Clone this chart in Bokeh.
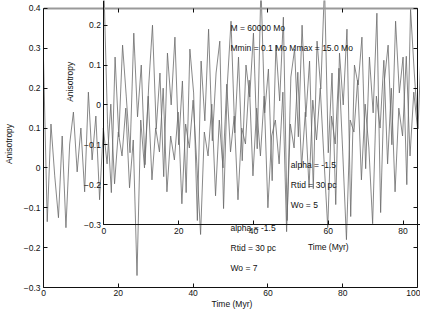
import math
from bokeh.plotting import figure
from bokeh.models import Range1d, LinearAxis, Label, FixedTicker
from bokeh.embed import file_html
from bokeh.resources import INLINE

# ---- data ----
time_outer = list(range(0, 101))
aniso_outer = [
    0.27, -0.135, 0.11, -0.02, -0.125, 0.08, -0.15, 0.06, 0.14, -0.01,
    0.10, -0.06, 0.19, 0.02, 0.13, -0.08, 0.10, 0.01, 0.16, -0.04,
    0.09, 0.03, 0.15, -0.05, 0.07, -0.27, 0.12, 0.00, 0.18, -0.03,
    0.10, 0.04, 0.20, -0.06, 0.08, 0.02, 0.14, -0.09, 0.11, 0.05,
    0.17, 0.01, -0.167, 0.09, 0.03, 0.16, -0.07, 0.12, 0.00, 0.21,
    0.04, 0.13, -0.08, 0.10, 0.06, 0.22, -0.02, 0.15, 0.03, 0.18,
    -0.10, 0.08, 0.12, 0.01, 0.19, -0.16, 0.11, 0.05, 0.24, 0.00,
    0.14, -0.05, 0.17, 0.07, 0.20, 0.02, -0.15, 0.13, 0.06, 0.25,
    0.04, -0.18, 0.12, 0.09, 0.22, -0.03, 0.16, 0.05, -0.14, 0.18,
    0.10, 0.27, 0.01, 0.20, -0.06, 0.15, 0.08, 0.28, 0.03, 0.19,
    0.10,
]
time_inset = list(range(0, 101))
aniso_inset = [
    0.30, -0.05, -0.22, 0.12, -0.08, 0.15, 0.02, -0.12, 0.18, -0.03,
    0.10, -0.15, 0.05, 0.20, -0.06, 0.08, -0.18, 0.13, 0.00, 0.17,
    -0.10, 0.06, -0.22, 0.14, 0.03, -0.29, 0.11, -0.04, 0.19, -0.09,
    0.08, 0.16, -0.26, 0.05, 0.21, -0.07, 0.12, -0.14, 0.10, 0.02,
    0.18, -0.11, 0.30, -0.02, 0.09, -0.19, 0.15, 0.01, 0.22, -0.29,
    0.07, 0.14, -0.08, 0.20, -0.03, 0.11, -0.21, 0.16, 0.04, 0.30,
    -0.12, 0.08, -0.25, 0.13, 0.00, 0.19, -0.28, 0.10, 0.05, 0.17,
    -0.16, 0.12, -0.02, 0.23, -0.27, 0.06, 0.15, -0.10, 0.21, 0.03,
    0.12, -0.20, 0.24, 0.08, -0.06, 0.18, -0.13, 0.20, 0.02, 0.14,
    -0.09, 0.16, 0.05, -0.17, 0.19, 0.00, 0.13, -0.11, 0.20, 0.04,
    0.10,
]

x_ticks = [0, 20, 40, 60, 80, 100]
y_ticks = [-0.3, -0.2, -0.1, 0, 0.1, 0.2, 0.3, 0.4]
inset_x_ticks = [0, 20, 40, 60, 80, 100, 120]
inset_y_ticks = [-0.3, -0.2, -0.1, 0, 0.1, 0.2, 0.3, 0.4]

outer_texts = ["M = 60000 Mo", "Mmin = 0.1 Mo  Mmax = 15.0 Mo",
               "alpha = -1.5", "Rtid = 30 pc", "Wo = 7"]
outer_text_y = [0.35, 0.30, -0.15, -0.20, -0.25]
inset_texts = ["alpha = -1.5", "Rtid = 30 pc", "Wo = 5"]
inset_text_y = [-0.15, -0.20, -0.25]
text_x = 50

FONT = "Liberation Sans"
FS = "8.5px"
TXT = "#111111"
LINE = "#6a6a6a"

p = figure(width=420, height=311,
           x_range=Range1d(0, 100.8), y_range=Range1d(-0.3, 0.4199),
           output_backend="svg", toolbar_location=None,
           min_border_left=43, min_border_right=0,
           min_border_top=0, min_border_bottom=22)
p.outline_line_color = None
p.xgrid.visible = False
p.ygrid.visible = False
p.background_fill_color = "white"
p.border_fill_color = "white"

p.extra_x_ranges = {"ix": Range1d(-16.14, 84.66)}
p.extra_y_ranges = {"iy": Range1d(-0.458, 0.2619)}


def style_axis(ax, tick_in=4, tick_out=0):
    ax.major_tick_in = tick_in
    ax.major_tick_out = tick_out
    ax.minor_tick_in = 0
    ax.minor_tick_out = 0
    ax.axis_line_color = "#111111"
    ax.major_tick_line_color = "#111111"
    ax.major_label_text_font = FONT
    ax.major_label_text_font_size = FS
    ax.major_label_text_color = TXT
    ax.axis_label_text_font = FONT
    ax.axis_label_text_font_size = FS
    ax.axis_label_text_font_style = "normal"
    ax.axis_label_text_color = TXT


# main axes
xa = p.below[0]
style_axis(xa)
xa.ticker = FixedTicker(ticks=x_ticks)
xa.bounds = (0, 100)
xa.axis_label = "Time (Myr)"
xa.major_label_standoff = 2
xa.axis_label_standoff = 0

ya = p.left[0]
style_axis(ya)
ya.ticker = FixedTicker(ticks=y_ticks)
ya.bounds = (-0.3, 0.4)
ya.axis_label = "Anisotropy"
ya.major_label_standoff = 3
ya.axis_label_standoff = 7
ya.major_label_overrides = {0: "0"}

# mirrored ticks of the outer frame (top and right)
top_ax = LinearAxis(fixed_location=0.4, ticker=FixedTicker(ticks=x_ticks), bounds=(0, 100))
style_axis(top_ax, tick_in=0, tick_out=4)
top_ax.axis_line_color = "#999999"
top_ax.axis_line_width = 2
top_ax.major_label_text_color = None
p.add_layout(top_ax, "below")

right_ax = LinearAxis(fixed_location=100, ticker=FixedTicker(ticks=y_ticks), bounds=(-0.3, 0.4))
style_axis(right_ax, tick_in=0, tick_out=4)
right_ax.major_label_text_color = None
p.add_layout(right_ax, "left")

# inset axes
ix_ax = LinearAxis(x_range_name="ix", y_range_name="iy", fixed_location=-0.3,
                   ticker=FixedTicker(ticks=inset_x_ticks), bounds=(0, 120))
style_axis(ix_ax)
ix_ax.major_label_standoff = 3
p.add_layout(ix_ax, "below")

iy_ax = LinearAxis(x_range_name="ix", y_range_name="iy", fixed_location=0,
                   ticker=FixedTicker(ticks=inset_y_ticks), bounds=(-0.3, 0.4))
style_axis(iy_ax)
iy_ax.major_label_standoff = 3
iy_ax.major_label_overrides = {0: "0"}
p.add_layout(iy_ax, "left")

# inset axis titles
p.add_layout(Label(x=60, y=-0.357, text="Time (Myr)", x_range_name="ix", y_range_name="iy",
                   text_font=FONT, text_font_size=FS, text_color=TXT,
                   text_align="center", text_baseline="middle"))
p.add_layout(Label(x=-9.0, y=0.058, text="Anisotropy", x_range_name="ix", y_range_name="iy",
                   angle=math.pi / 2, text_font=FONT, text_font_size=FS, text_color=TXT,
                   text_align="center", text_baseline="middle"))

# data
p.line(time_outer, aniso_outer, line_color=LINE, line_width=0.8)
p.line(time_inset, aniso_inset, line_color=LINE, line_width=0.8,
       x_range_name="ix", y_range_name="iy")

for t, yy in zip(outer_texts, outer_text_y):
    p.add_layout(Label(x=text_x, y=yy, text=t, text_font=FONT, text_font_size=FS,
                       text_color=TXT, text_baseline="middle", text_align="left"))
for t, yy in zip(inset_texts, inset_text_y):
    p.add_layout(Label(x=text_x, y=yy, text=t, text_font=FONT, text_font_size=FS,
                       text_color=TXT, text_baseline="middle", text_align="left",
                       x_range_name="ix", y_range_name="iy"))

open("out.html", "w").write(file_html(p, INLINE))
